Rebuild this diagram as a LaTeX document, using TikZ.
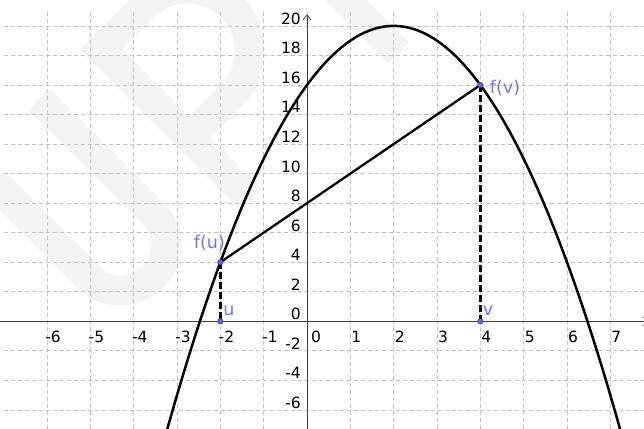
\documentclass[tikz,border=0pt]{standalone}
\usepackage{fontspec}
\setmainfont{DejaVu Sans}
\definecolor{gridc}{gray}{0.76}
\definecolor{axisc}{gray}{0.25}
\definecolor{ptlab}{RGB}{115,115,235}
\definecolor{ptfill}{RGB}{100,100,230}
\definecolor{wmark}{gray}{0.952}
\tikzset{
  gridline/.style={gridc, line width=0.8pt, dash pattern=on 4pt off 3pt},
  axisline/.style={axisc, line width=0.9pt},
  xlab/.style={font=\fontsize{15.5}{15.5}\selectfont, inner sep=0pt, anchor=center},
  ylab/.style={font=\fontsize{15.5}{15.5}\selectfont, inner sep=0pt, anchor=east},
  ptlabel/.style={text=ptlab, font=\fontsize{17.5}{17.5}\selectfont, inner sep=0pt},
  ptdot/.style={circle, fill=ptfill, draw=ptfill!60!black, line width=0.5pt, minimum size=5.5pt, inner sep=0pt},
  curveline/.style={black, line width=2.5pt},
  chordline/.style={black, line width=2.3pt},
  dropline/.style={black, line width=2.5pt, dash pattern=on 7pt off 3pt},
  wm/.style={wmark, line width=30pt, line join=miter, line cap=butt},
}
\begin{document}
\begin{tikzpicture}[x=43.33pt, y=14.77pt]
\useasboundingbox (-7.085,-7.224) rectangle (7.777,21.754);
\clip (-7.085,-7.224) rectangle (7.777,21.754);

% watermark
\coordinate (WO) at (-4.760,18.42);
\begin{scope}[shift={(WO)}, x=1pt, y=1pt, rotate=45]
  \draw[wm] (0,-213) -- (0,0) -- (60,0) arc[start angle=90, end angle=-90, radius=62.5] -- (0,-125);
  \draw[wm] (-79,8) -- (-79,-152.5) arc[start angle=0, end angle=-180, radius=45.5] -- (-170,8);
  \draw[wm] (208,-213) -- (208,20);
\end{scope}

% grid
\foreach \k in {-6,...,7} \draw[gridline] (\k,-7.3) -- (\k,21);
\foreach \k in {-6,-4,...,20} \draw[gridline] (-7,\k) -- (7.8,\k);

% axes
\coordinate (xs) at (-7.1,0);
\coordinate (xt) at (7.87,0);
\draw[axisline] (xs) -- (xt);
\draw[axisline, line width=0.8pt] ([shift={(-5pt,4.5pt)}]xt) -- (xt) -- ([shift={(-5pt,-4.5pt)}]xt);
\coordinate (ys) at (0,-7.3);
\coordinate (yt) at (0,20.74);
\draw[axisline] (ys) -- (yt);
\draw[axisline, line width=0.8pt] ([shift={(-4pt,-5pt)}]yt) -- (yt) -- ([shift={(4pt,-5pt)}]yt);

% axis labels
\foreach \k in {-6,...,-1,1,2,...,7} \node[xlab] (xl\k) at (\k+0.14,-1.06) {\k};
\node[xlab] (xl0) at (0.21,-1.06) {0};
\foreach \k in {-6,-4,...,20} \node[ylab] (yl\k) at (-0.14,\k+0.49) {\k};

% function
\draw[curveline] plot[domain=-3.35:7.35, samples=160, smooth] (\x, {16+4*\x-\x*\x});

% points and connectors
\coordinate (pfu) at (-2,4);
\coordinate (pu) at (-2,0);
\coordinate (pfv) at (4,16);
\coordinate (pv) at (4,0);
\draw[chordline] (pfu) -- (pfv);
\draw[dropline] (pfu) -- (pu);
\draw[dropline] (pfv) -- (pv);
\node[ptdot] (FU) at (pfu) {};
\node[ptdot] (U) at (pu) {};
\node[ptdot] (FV) at (pfv) {};
\node[ptdot] (V) at (pv) {};

\node[ptlabel] (lfu) at (-2.252,5.32) {f(u)};
\node[ptlabel] (lfv) at (4.570,15.78) {f(v)};
\node[ptlabel] (lu) at (-1.80,0.70) {u};
\node[ptlabel] (lv) at (4.18,0.70) {v};
\end{tikzpicture}
\end{document}
